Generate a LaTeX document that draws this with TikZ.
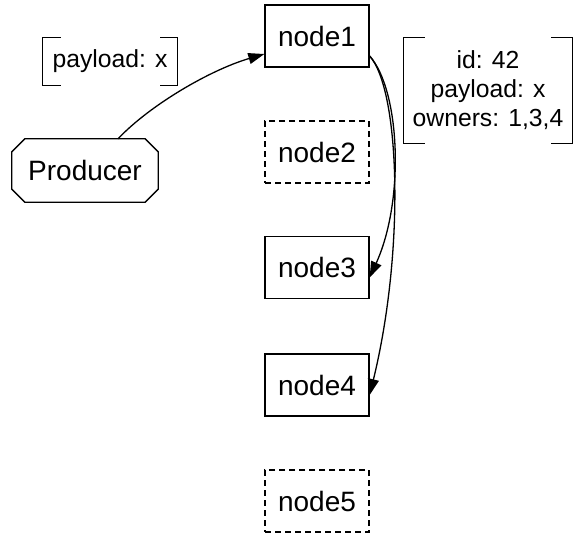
\documentclass[tikz,border=0pt]{standalone}
\usepackage{fontspec}
\setmainfont{Liberation Sans}
\usetikzlibrary{arrows.meta}
\begin{document}
\begin{tikzpicture}[x=1pt,y=-1pt,
  box/.style={draw,line width=1.3pt,minimum width=104pt,minimum height=62pt,inner sep=0pt,font=\fontsize{28}{33}\selectfont},
  ghost/.style={box,dash pattern=on 6pt off 4pt},
  prod/.style={minimum width=146pt,minimum height=63pt,inner sep=0pt,font=\fontsize{28}{33}\selectfont},
  lbl/.style={inner sep=0pt,align=center,font=\fontsize{24.7}{29}\selectfont},
  brk/.style={line width=1.3pt},
  edge/.style={line width=1.3pt,-{Triangle[length=16pt,width=11pt]}}]
\useasboundingbox[fill=white] (0,0) rectangle (575,536);
\node[box] (node1) at (317,36) {node1};
\node[ghost] (node2) at (317,152) {node2};
\node[box] (node3) at (317,267.5) {node3};
\node[box] (node4) at (317,385) {node4};
\node[ghost] (node5) at (317,501) {node5};
\node[prod] (Producer) at (85,170.5) {Producer};
\draw[brk,line join=miter] ([xshift=13pt]Producer.north west) -- ([xshift=-13pt]Producer.north east)
  -- ([yshift=-13pt]Producer.north east) -- ([yshift=13pt]Producer.south east)
  -- ([xshift=-13pt]Producer.south east) -- ([xshift=13pt]Producer.south west)
  -- ([yshift=13pt]Producer.south west) -- ([yshift=-13pt]Producer.north west) -- cycle;
\node[lbl,minimum width=134pt,minimum height=47pt] (lbl1) at (110,61.5) {payload: x};
\node[lbl,minimum width=168pt,minimum height=105pt] (lbl2) at (488,90.5) {id: 42\\payload: x\\owners: 1,3,4};
\draw[brk] ([xshift=18pt]lbl1.north west) -- (lbl1.north west) -- (lbl1.south west) -- ([xshift=18pt]lbl1.south west);
\draw[brk] ([xshift=-17pt]lbl1.north east) -- (lbl1.north east) -- (lbl1.south east) -- ([xshift=-17pt]lbl1.south east);
\draw[brk] ([xshift=21pt]lbl2.north west) -- (lbl2.north west) -- (lbl2.south west) -- ([xshift=21pt]lbl2.south west);
\draw[brk] ([xshift=-21pt]lbl2.north east) -- (lbl2.north east) -- (lbl2.south east) -- ([xshift=-21pt]lbl2.south east);
\draw[edge] ([xshift=33pt]Producer.north) .. controls (150,105) and (210,70) .. ([yshift=-18pt]node1.west);
\draw[edge] ([yshift=-20pt]node1.east) .. controls (400,90) and (405,200) .. ([yshift=-10pt]node3.east);
\draw[edge] ([yshift=-20pt]node1.east) .. controls (400,90) and (405,250) .. ([yshift=-10pt]node4.east);
\end{tikzpicture}
\end{document}
